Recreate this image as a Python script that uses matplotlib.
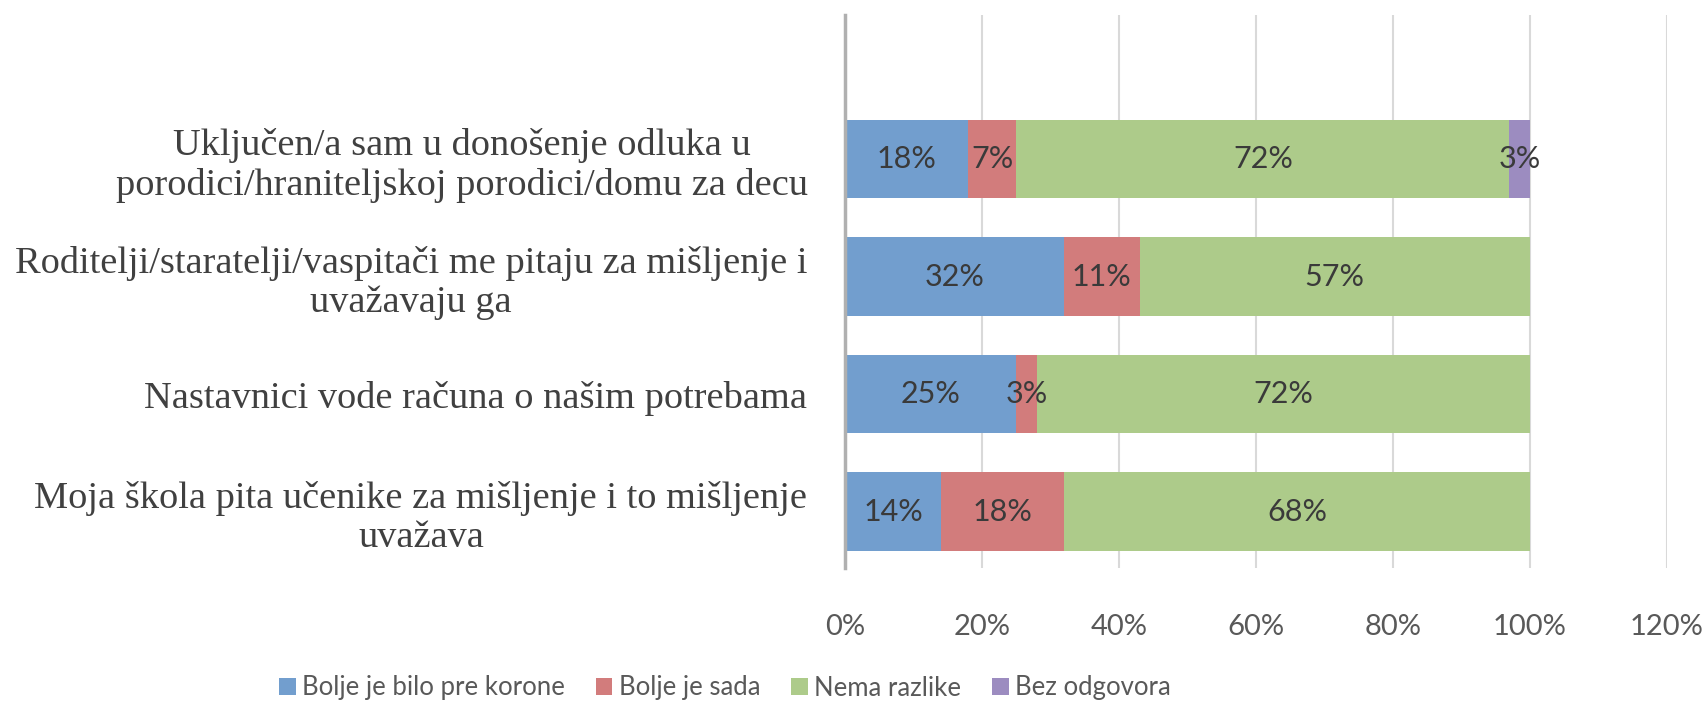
import matplotlib.pyplot as plt
from matplotlib.ticker import PercentFormatter

# categories (bottom to top, as drawn)
categories = [
    "Moja škola pita učenike za mišljenje i to mišljenje\nuvažava",
    "Nastavnici vode računa o našim potrebama",
    "Roditelji/staratelji/vaspitači me pitaju za mišljenje i\nuvažavaju ga",
    "Uključen/a sam u donošenje odluka u\nporodici/hraniteljskoj porodici/domu za decu",
]
series_names = ["Bolje je bilo pre korone", "Bolje je sada", "Nema razlike", "Bez odgovora"]
bolje_pre = [14, 25, 32, 18]
bolje_sada = [18, 3, 11, 7]
nema_razlike = [68, 72, 57, 72]
bez_odgovora = [0, 0, 0, 3]
colors = ["#729ece", "#d27c7c", "#adcb8a", "#9c8cc0"]

fig = plt.figure(figsize=(17.05, 7.05), dpi=100)
ax = fig.add_axes([845 / 1705, 1 - 568 / 705, (1667 - 845) / 1705, (568 - 15) / 705])

ypos = list(range(len(categories)))
left = [0] * len(categories)
for name, vals, col in zip(series_names, [bolje_pre, bolje_sada, nema_razlike, bez_odgovora], colors):
    fr = [v / 100 for v in vals]
    ax.barh(ypos, fr, left=left, height=0.67, color=col, label=name, zorder=2)
    for y, l, v in zip(ypos, left, vals):
        if v > 0:
            ax.text(l + v / 200, y, f"{v}%", ha="center", va="center",
                    fontsize=22, color="#3a3a3a", family="Lato", zorder=3)
    left = [a + b for a, b in zip(left, fr)]

ax.set_xlim(0, 1.2)
ax.set_ylim(-0.48, 4.225)
ax.set_xticks([0, 0.2, 0.4, 0.6, 0.8, 1.0, 1.2])
ax.xaxis.set_major_formatter(PercentFormatter(1.0, decimals=0))
ax.grid(axis="x", color="#d9d9d9", linewidth=1.5, zorder=0)
ax.set_axisbelow(True)

for s in ["top", "right", "bottom"]:
    ax.spines[s].set_visible(False)
ax.spines["left"].set_color("#b0b0b0")
ax.spines["left"].set_linewidth(2.5)
ax.spines["left"].set_zorder(4)

ax.tick_params(axis="x", length=0, pad=33, labelsize=21, labelcolor="#595959")
for t in ax.get_xticklabels():
    t.set_family("Lato")
ax.set_yticks(ypos)
ax.set_yticklabels(categories, family="Liberation Serif", fontsize=27.6,
                   color="#404040", multialignment="center", linespacing=1.17)
ax.tick_params(axis="y", length=0, pad=27)

ax.legend(loc="center", bbox_to_anchor=(725 / 1705, 1 - 688 / 705),
          bbox_transform=fig.transFigure, ncol=4, frameon=False,
          prop={"family": "Lato", "size": 18.5}, labelcolor="#595959",
          handlelength=0.65, handleheight=0.65, handletextpad=0.25, columnspacing=1.2)

fig.savefig("out.png", dpi=100)
